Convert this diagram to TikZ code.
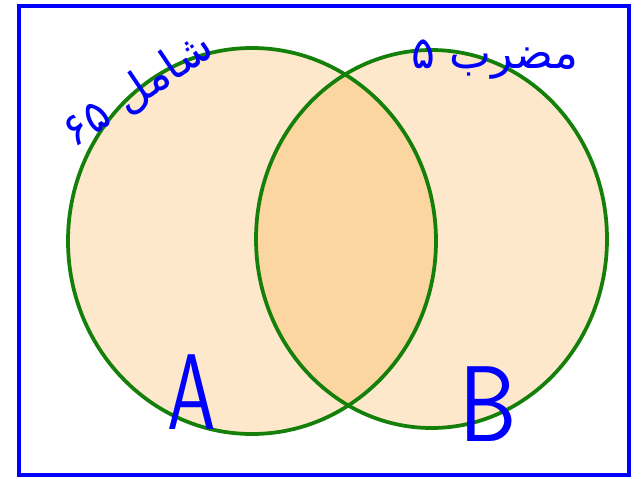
\documentclass[tikz,border=0pt]{standalone}
\usepackage{fontspec}
\newfontfamily\arabicfont[Script=Arabic]{DejaVu Sans}
\TeXXeTstate=1
\definecolor{pen}{RGB}{0,0,255}
\definecolor{ring}{RGB}{20,128,10}
\definecolor{lightfill}{RGB}{254,232,204}
\definecolor{midfill}{RGB}{252,214,160}
\begin{document}
\begin{tikzpicture}[x=0.03cm,y=-0.03cm,
  frame/.style={draw=pen,line width=3.4pt},
  ringline/.style={draw=ring,line width=3.2pt},
  letter/.style={text=pen,font=\sffamily\fontsize{92}{92}\selectfont,inner sep=0pt},
  persian/.style={text=pen,font=\arabicfont\fontsize{38}{38}\selectfont,inner sep=0pt}]
\useasboundingbox (0,0) rectangle (642,479);
\coordinate (cl) at (252,241);
\coordinate (cr) at (431.5,239);
\fill[lightfill] (cl) ellipse [x radius=5.52cm, y radius=5.79cm];
\fill[lightfill] (cr) ellipse [x radius=5.265cm, y radius=5.67cm];
\begin{scope}
  \clip (cl) ellipse [x radius=5.52cm, y radius=5.79cm];
  \fill[midfill] (cr) ellipse [x radius=5.265cm, y radius=5.67cm];
\end{scope}
\draw[ringline] (cl) ellipse [x radius=5.52cm, y radius=5.79cm];
\draw[ringline] (cr) ellipse [x radius=5.265cm, y radius=5.67cm];
\draw[frame] (19,6) rectangle (629,475);
\node[letter,xscale=0.72] (A) at (192,392) {A};
\node[letter,xscale=0.85] (B) at (488,404) {B};
\node[persian] (lt) at (138,90) [rotate=34] {\beginR شامل ۶۵\endR};
\node[persian] (rt) at (495,60) {\beginR مضرب ۵\endR};
\end{tikzpicture}
\end{document}
